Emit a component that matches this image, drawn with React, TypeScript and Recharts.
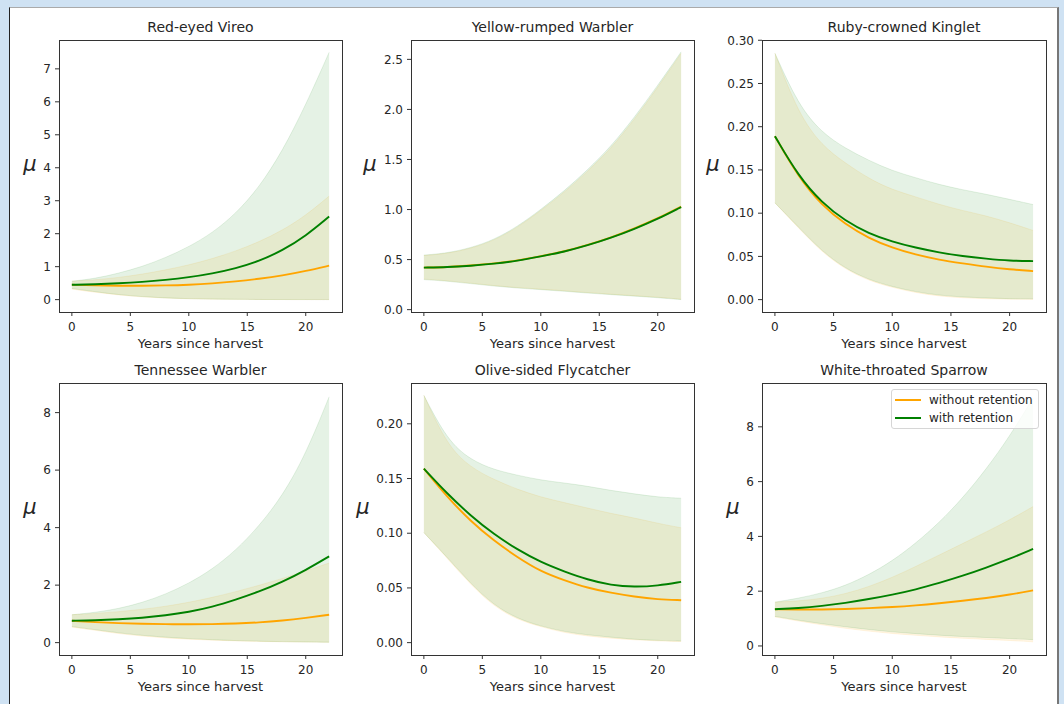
import { ComposedChart, Area, Line, XAxis, YAxis } from "recharts";

const YEARS = [0, 2, 4, 6, 8, 10, 12, 14, 16, 18, 20, 22];
const X_TICKS = [0, 5, 10, 15, 20];

// Red-eyed Vireo
const vireoWithout = [0.45, 0.43, 0.42, 0.42, 0.43, 0.45, 0.49, 0.55, 0.63, 0.73, 0.87, 1.03];
const vireoWithoutLo = [0.32, 0.22, 0.14, 0.08, 0.045, 0.025, 0.014, 0.008, 0.004, 0.002, 0.001, 0.001];
const vireoWithoutHi = [0.56, 0.6, 0.67, 0.77, 0.9, 1.05, 1.24, 1.47, 1.75, 2.1, 2.55, 3.14];
const vireoWith = [0.45, 0.466, 0.495, 0.537, 0.596, 0.676, 0.789, 0.946, 1.165, 1.49, 1.93, 2.52];
const vireoWithLo = [0.34, 0.24, 0.15, 0.09, 0.05, 0.03, 0.015, 0.01, 0.005, 0.003, 0.002, 0.001];
const vireoWithHi = [0.56, 0.64, 0.8, 1.0, 1.27, 1.6, 2.02, 2.6, 3.4, 4.5, 5.9, 7.5];

// Yellow-rumped Warbler
const yrwaWithout = [0.42, 0.425, 0.44, 0.46, 0.49, 0.535, 0.58, 0.645, 0.72, 0.81, 0.91, 1.03];
const yrwaWithoutLo = [0.305, 0.29, 0.265, 0.24, 0.22, 0.205, 0.19, 0.17, 0.155, 0.14, 0.125, 0.105];
const yrwaWithoutHi = [0.54, 0.56, 0.61, 0.69, 0.82, 0.99, 1.17, 1.38, 1.61, 1.9, 2.22, 2.56];
const yrwaWith = [0.42, 0.424, 0.438, 0.458, 0.487, 0.532, 0.578, 0.642, 0.717, 0.806, 0.906, 1.025];
const yrwaWithLo = [0.3, 0.285, 0.26, 0.235, 0.215, 0.2, 0.184, 0.165, 0.15, 0.135, 0.12, 0.1];
const yrwaWithHi = [0.545, 0.565, 0.617, 0.698, 0.83, 1.0, 1.185, 1.395, 1.63, 1.92, 2.24, 2.575];

// Ruby-crowned Kinglet
const rckiWithout = [0.189, 0.142, 0.109, 0.087, 0.071, 0.06, 0.052, 0.046, 0.042, 0.038, 0.035, 0.033];
const rckiWithoutLo = [0.112, 0.083, 0.055, 0.035, 0.022, 0.014, 0.008, 0.004, 0.002, 0.001, 0.0005, 0.0003];
const rckiWithoutHi = [0.285, 0.215, 0.178, 0.158, 0.14, 0.127, 0.119, 0.11, 0.103, 0.097, 0.089, 0.08];
const rckiWith = [0.189, 0.143, 0.112, 0.091, 0.0765, 0.067, 0.06, 0.0545, 0.0503, 0.0474, 0.045, 0.0446];
const rckiWithLo = [0.112, 0.084, 0.056, 0.036, 0.023, 0.015, 0.009, 0.005, 0.003, 0.002, 0.001, 0.001];
const rckiWithHi = [0.285, 0.225, 0.193, 0.175, 0.161, 0.149, 0.141, 0.133, 0.127, 0.122, 0.116, 0.11];

// Tennessee Warbler
const tewaWithout = [0.763, 0.712, 0.678, 0.655, 0.641, 0.636, 0.642, 0.662, 0.7, 0.765, 0.86, 0.97];
const tewaWithoutLo = [0.54, 0.43, 0.31, 0.23, 0.16, 0.12, 0.085, 0.06, 0.04, 0.028, 0.018, 0.012];
const tewaWithoutHi = [0.97, 1.015, 1.075, 1.155, 1.26, 1.4, 1.57, 1.77, 1.99, 2.23, 2.49, 2.77];
const tewaWith = [0.763, 0.775, 0.81, 0.86, 0.945, 1.065, 1.24, 1.49, 1.77, 2.11, 2.52, 3.0];
const tewaWithLo = [0.56, 0.45, 0.34, 0.25, 0.19, 0.14, 0.1, 0.07, 0.05, 0.035, 0.022, 0.015];
const tewaWithHi = [0.97, 1.05, 1.18, 1.39, 1.68, 2.06, 2.55, 3.2, 4.05, 5.1, 6.55, 8.55];

// Olive-sided Flycatcher
const osflWithout = [0.159, 0.133, 0.111, 0.093, 0.078, 0.065, 0.057, 0.05, 0.0455, 0.042, 0.0395, 0.0388];
const osflWithoutLo = [0.1006, 0.077, 0.053, 0.033, 0.021, 0.0145, 0.009, 0.006, 0.004, 0.0025, 0.0015, 0.001];
const osflWithoutHi = [0.226, 0.18, 0.16, 0.149, 0.14, 0.133, 0.128, 0.123, 0.118, 0.114, 0.109, 0.105];
const osflWith = [0.159, 0.136, 0.116, 0.099, 0.085, 0.0735, 0.065, 0.0575, 0.0525, 0.0508, 0.052, 0.0555];
const osflWithLo = [0.1006, 0.078, 0.054, 0.034, 0.022, 0.015, 0.01, 0.007, 0.005, 0.003, 0.002, 0.0015];
const osflWithHi = [0.226, 0.185, 0.167, 0.158, 0.153, 0.1485, 0.146, 0.143, 0.139, 0.136, 0.133, 0.132];

// White-throated Sparrow
const wtspWithout = [1.34, 1.33, 1.33, 1.35, 1.38, 1.42, 1.48, 1.56, 1.65, 1.75, 1.87, 2.03];
const wtspWithoutLo = [1.06, 0.91, 0.77, 0.64, 0.54, 0.45, 0.39, 0.33, 0.28, 0.24, 0.2, 0.15];
const wtspWithoutHi = [1.6, 1.64, 1.73, 1.9, 2.16, 2.5, 2.9, 3.32, 3.74, 4.16, 4.6, 5.09];
const wtspWith = [1.34, 1.38, 1.46, 1.57, 1.71, 1.87, 2.06, 2.3, 2.56, 2.86, 3.18, 3.54];
const wtspWithLo = [1.08, 0.94, 0.81, 0.7, 0.6, 0.51, 0.45, 0.39, 0.34, 0.31, 0.27, 0.23];
const wtspWithHi = [1.6, 1.74, 1.93, 2.2, 2.6, 3.1, 3.75, 4.5, 5.4, 6.45, 7.65, 9.05];

const ORANGE = "#ffa500";
const GREEN = "#008000";
const TEXT = "#262626";
const FONT = "'DejaVu Sans', sans-serif";

type Panel = {
  title: string;
  without: number[];
  withoutLo: number[];
  withoutHi: number[];
  withR: number[];
  withLo: number[];
  withHi: number[];
  domain: [number, number];
  ticks: number[];
  digits: number;
  left: number;
  top: number;
  width: number;
  muX: number;
  legend?: boolean;
};

const PANELS: Panel[] = [
  {
    title: "Red-eyed Vireo",
    without: vireoWithout, withoutLo: vireoWithoutLo, withoutHi: vireoWithoutHi,
    withR: vireoWith, withLo: vireoWithLo, withHi: vireoWithHi,
    domain: [-0.375, 7.875], ticks: [0, 1, 2, 3, 4, 5, 6, 7], digits: 0,
    left: 59, top: 40, width: 283, muX: 30,
  },
  {
    title: "Yellow-rumped Warbler",
    without: yrwaWithout, withoutLo: yrwaWithoutLo, withoutHi: yrwaWithoutHi,
    withR: yrwaWith, withLo: yrwaWithLo, withHi: yrwaWithHi,
    domain: [-0.0235, 2.6935], ticks: [0, 0.5, 1, 1.5, 2, 2.5], digits: 1,
    left: 411, top: 40, width: 283, muX: 370,
  },
  {
    title: "Ruby-crowned Kinglet",
    without: rckiWithout, withoutLo: rckiWithoutLo, withoutHi: rckiWithoutHi,
    withR: rckiWith, withLo: rckiWithLo, withHi: rckiWithHi,
    domain: [-0.0143, 0.3003], ticks: [0, 0.05, 0.1, 0.15, 0.2, 0.25, 0.3], digits: 2,
    left: 762, top: 40, width: 284, muX: 713,
  },
  {
    title: "Tennessee Warbler",
    without: tewaWithout, withoutLo: tewaWithoutLo, withoutHi: tewaWithoutHi,
    withR: tewaWith, withLo: tewaWithLo, withHi: tewaWithHi,
    domain: [-0.43, 9.03], ticks: [0, 2, 4, 6, 8], digits: 0,
    left: 59, top: 383, width: 283, muX: 30,
  },
  {
    title: "Olive-sided Flycatcher",
    without: osflWithout, withoutLo: osflWithoutLo, withoutHi: osflWithoutHi,
    withR: osflWith, withLo: osflWithLo, withHi: osflWithHi,
    domain: [-0.0113, 0.2373], ticks: [0, 0.05, 0.1, 0.15, 0.2], digits: 2,
    left: 411, top: 383, width: 283, muX: 363,
  },
  {
    title: "White-throated Sparrow",
    without: wtspWithout, withoutLo: wtspWithoutLo, withoutHi: wtspWithoutHi,
    withR: wtspWith, withLo: wtspWithLo, withHi: wtspWithHi,
    domain: [-0.33, 9.6], ticks: [0, 2, 4, 6, 8], digits: 0,
    left: 762, top: 383, width: 284, muX: 733, legend: true,
  },
];

const PLOT_H = 272;
const Y_W = 50;
const X_H = 30;
const M_TOP = 5;
const M_RIGHT = 5;

function SpeciesPanel({ p }: { p: Panel }) {
  const rows = YEARS.map((year, i) => ({
    year,
    without: p.without[i],
    withR: p.withR[i],
    withoutBand: [p.withoutLo[i], p.withoutHi[i]],
    withBand: [p.withLo[i], p.withHi[i]],
  }));
  const tickStyle = { fontSize: 12, fill: TEXT, fontFamily: FONT };

  return (
    <>
      <div
        style={{
          position: "absolute",
          left: p.left,
          width: p.width,
          top: p.top - 21,
          textAlign: "center",
          fontSize: 14,
          color: TEXT,
          lineHeight: "16px",
          whiteSpace: "nowrap",
        }}
      >
        {p.title}
      </div>
      <div
        style={{
          position: "absolute",
          left: p.muX - 15,
          width: 30,
          top: p.top + 112,
          textAlign: "center",
          fontSize: 21,
          fontStyle: "italic",
          color: TEXT,
          lineHeight: "24px",
        }}
      >
        μ
      </div>
      <div
        style={{
          position: "absolute",
          left: p.left,
          width: p.width,
          top: p.top + PLOT_H + 24,
          textAlign: "center",
          fontSize: 13,
          color: TEXT,
          lineHeight: "15px",
        }}
      >
        Years since harvest
      </div>
      <div style={{ position: "absolute", left: p.left - Y_W, top: p.top - M_TOP }}>
        <ComposedChart
          width={Y_W + p.width + M_RIGHT}
          height={M_TOP + PLOT_H + X_H}
          data={rows}
          margin={{ top: M_TOP, right: M_RIGHT, bottom: 0, left: 0 }}
        >
          <XAxis
            dataKey="year"
            type="number"
            domain={[-1.1, 23.1]}
            ticks={X_TICKS}
            allowDataOverflow
            axisLine={false}
            tickSize={4}
            tickMargin={6}
            tickLine={{ stroke: "#333" }}
            tick={tickStyle}
            height={X_H}
            interval={0}
          />
          <YAxis
            type="number"
            domain={p.domain}
            ticks={p.ticks}
            allowDataOverflow
            axisLine={false}
            tickSize={4}
            tickMargin={4}
            tickLine={{ stroke: "#333" }}
            tick={tickStyle}
            width={Y_W}
            interval={0}
            tickFormatter={(v: number) => v.toFixed(p.digits)}
          />
          <Area
            dataKey="withoutBand"
            type="basis"
            fill={ORANGE}
            fillOpacity={0.1}
            stroke={ORANGE}
            strokeOpacity={0.1}
            isAnimationActive={false}
          />
          <Line
            dataKey="without"
            type="basis"
            stroke={ORANGE}
            strokeWidth={1.9}
            dot={false}
            isAnimationActive={false}
          />
          <Area
            dataKey="withBand"
            type="basis"
            fill={GREEN}
            fillOpacity={0.1}
            stroke={GREEN}
            strokeOpacity={0.1}
            isAnimationActive={false}
          />
          <Line
            dataKey="withR"
            type="basis"
            stroke={GREEN}
            strokeWidth={1.9}
            dot={false}
            isAnimationActive={false}
          />
        </ComposedChart>
      </div>
      <div
        style={{
          position: "absolute",
          left: p.left,
          top: p.top,
          width: p.width + 1,
          height: PLOT_H + 1,
          boxSizing: "border-box",
          border: "1px solid #333",
          pointerEvents: "none",
        }}
      />
      {p.legend && (
        <div
          style={{
            position: "absolute",
            left: 891,
            top: 389,
            width: 148,
            height: 40,
            boxSizing: "border-box",
            background: "rgba(255,255,255,0.8)",
            border: "1px solid #d6d6d6",
            borderRadius: 3,
            fontSize: 12,
            color: TEXT,
          }}
        >
          {[
            { label: "without retention", color: ORANGE },
            { label: "with retention", color: GREEN },
          ].map((item, i) => (
            <div
              key={item.label}
              style={{ position: "absolute", left: 3, top: 2 + i * 18, height: 16, display: "flex", alignItems: "center" }}
            >
              <span style={{ display: "inline-block", width: 26, height: 2, background: item.color }} />
              <span style={{ marginLeft: 8, lineHeight: "16px", whiteSpace: "nowrap" }}>{item.label}</span>
            </div>
          ))}
        </div>
      )}
    </>
  );
}

export default function App() {
  return (
    <div
      style={{
        position: "fixed",
        left: 0,
        top: 0,
        width: 1064,
        height: 704,
        background: "#cfe2f3",
        fontFamily: FONT,
        overflow: "hidden",
      }}
    >
      <div
        style={{
          position: "absolute",
          left: 9,
          top: 7,
          width: 1050,
          height: 720,
          boxSizing: "border-box",
          background: "#fff",
          borderLeft: "1px solid #222",
          borderTop: "1px solid #aaa",
          borderRight: "2px solid #777",
        }}
      />
      {PANELS.map((p) => (
        <SpeciesPanel key={p.title} p={p} />
      ))}
    </div>
  );
}
